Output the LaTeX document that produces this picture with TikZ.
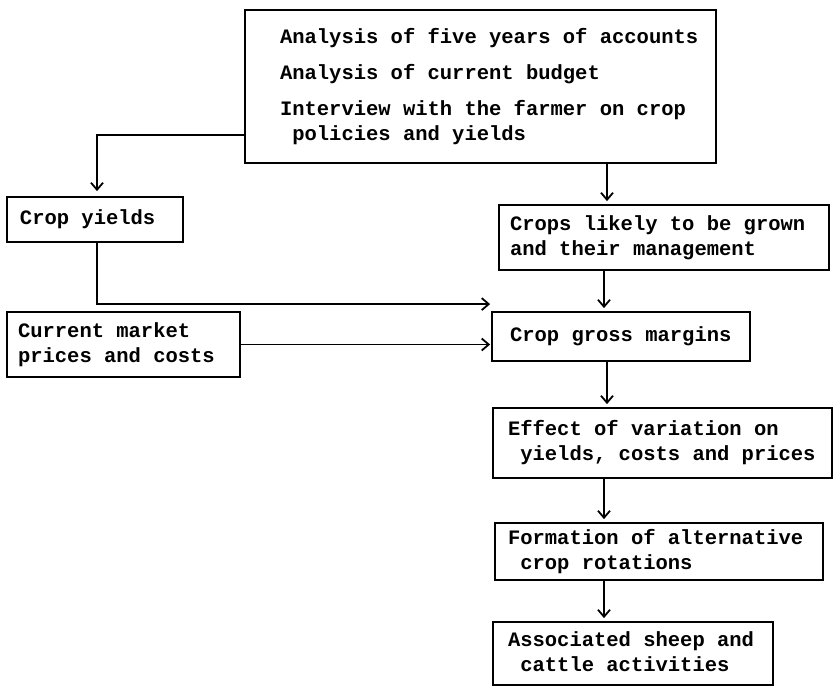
\documentclass[tikz,border=0pt]{standalone}
\usepackage{fontspec}
\newfontfamily\twfont{Liberation Mono}
\usetikzlibrary{arrows.meta}
\newcommand{\boxtext}[3]{\makebox[#2pt][l]{\hspace*{#1pt}\begin{tabular}{@{}l@{}}#3\end{tabular}}}
\newcommand{\ind}{\hspace*{12.3pt}}
\tikzset{
  box/.style={draw, line width=1.8pt, inner sep=0pt, rectangle,
    font={\twfont\bfseries\fontsize{20.5}{25}\selectfont}},
  arr/.style={line width=1.8pt, -{Straight Barb[length=7pt,width=12pt]}, shorten >=3pt},
  conn/.style={line width=1.8pt}
}
\begin{document}
\begin{tikzpicture}[x=1pt,y=-1pt]
\fill[white] (0,0) rectangle (833,689);
\useasboundingbox (0,0) rectangle (833,689);

\node[box, minimum width=471pt, minimum height=153pt] (top) at (480.5,86.5)
  {\boxtext{35}{471}{Analysis of five years of accounts\\[11pt]
   Analysis of current budget\\[11pt]
   Interview with the farmer on crop\\
   \ind policies and yields}};
\node[box, minimum width=176pt, minimum height=45pt] (yields) at (95,219.5)
  {\boxtext{13}{176}{Crop yields}};
\node[box, minimum width=233pt, minimum height=65pt] (market) at (123.5,344.5)
  {\boxtext{11}{233}{Current market\\prices and costs}};
\node[box, minimum width=330pt, minimum height=65pt] (crops) at (664,237.5)
  {\boxtext{11}{330}{Crops likely to be grown\\and their management}};
\node[box, minimum width=258pt, minimum height=49pt] (cgm) at (621,336.5)
  {\boxtext{18}{258}{Crop gross margins}};
\node[box, minimum width=339pt, minimum height=70pt] (effect) at (662.5,443)
  {\boxtext{15}{339}{Effect of variation on\\\ind yields, costs and prices}};
\node[box, minimum width=328pt, minimum height=57pt] (form) at (659,551.5)
  {\boxtext{13}{328}{Formation of alternative\\\ind crop rotations}};
\node[box, minimum width=280pt, minimum height=63pt] (assoc) at (633,653.5)
  {\boxtext{15}{280}{Associated sheep and\\\ind cattle activities}};

\coordinate (xL) at (97,0);
\coordinate (xA) at (607,0);
\coordinate (xB) at (604,0);
\coordinate (yA) at (0,135);

\draw[arr, shorten >=5pt] (top.west |- yA) -| (yields.north -| xL);
\draw[arr, shorten >=1pt] (yields.south -| xL) |- ([yshift=7pt]cgm.north west);
\draw[arr, shorten >=1pt] (market.east) -- (market.east -| cgm.west);
\draw[arr] (top.south -| xA) -- (crops.north -| xA);
\draw[arr] (crops.south -| xB) -- (cgm.north -| xB);
\draw[arr] (cgm.south -| xA) -- (effect.north -| xA);
\draw[arr] (effect.south -| xB) -- (form.north -| xB);
\draw[arr] (form.south -| xB) -- (assoc.north -| xB);
\end{tikzpicture}
\end{document}
